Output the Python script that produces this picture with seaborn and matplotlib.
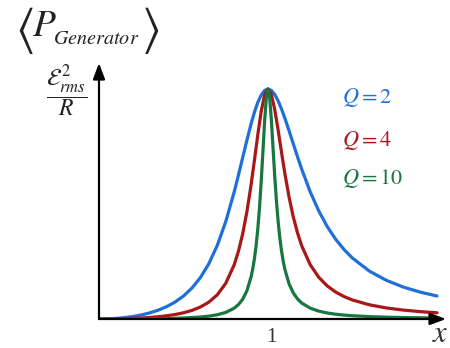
import numpy as np
import pandas as pd
import matplotlib
matplotlib.use("Agg")
import matplotlib.pyplot as plt
import seaborn as sns

# ---- data (x = ω/ω0, power in units of ε²rms/R) ----
x_q2 = [0, 0.05, 0.1, 0.15, 0.2, 0.25, 0.3, 0.35, 0.4, 0.45, 0.5, 0.55, 0.6, 0.65, 0.7, 0.75,
        0.8, 0.825, 0.85, 0.875, 0.9, 0.92, 0.94, 0.96, 0.98, 1.0, 1.02, 1.04, 1.06, 1.08, 1.1,
        1.125, 1.15, 1.175, 1.2, 1.25, 1.3, 1.35, 1.4, 1.45, 1.5, 1.6, 1.7, 1.8, 1.9, 2.0]
p_q2 = [0, 0.0006, 0.0025, 0.0059, 0.0107, 0.0175, 0.0265, 0.0383, 0.0537, 0.0737, 0.100,
        0.1345, 0.1801, 0.2405, 0.3202, 0.4235, 0.5525, 0.6252, 0.7011, 0.7770, 0.8487, 0.8997,
        0.9422, 0.9740, 0.9935, 1.0, 0.9938, 0.9760, 0.9484, 0.9133, 0.8728, 0.8177, 0.7607,
        0.7044, 0.6503, 0.5525, 0.4702, 0.4024, 0.3471, 0.3019, 0.2647, 0.2082, 0.1682,
        0.1390, 0.1170, 0.100]

x_q4 = x_q2
p_q4 = [0, 0.0002, 0.0006, 0.0015, 0.0027, 0.0044, 0.0067, 0.0098, 0.0140, 0.0195, 0.0270,
        0.0374, 0.0521, 0.0734, 0.1053, 0.1552, 0.2358, 0.2943, 0.3696, 0.4656, 0.5837, 0.6916,
        0.8030, 0.9036, 0.9745, 1.0, 0.9755, 0.9103, 0.8213, 0.7247, 0.6317, 0.5286, 0.4428,
        0.3733, 0.3173, 0.2358, 0.1816, 0.1441, 0.1173, 0.0976, 0.0826, 0.0617, 0.0481,
        0.0388, 0.0321, 0.0270]

x_q10 = [0, 0.05, 0.1, 0.15, 0.2, 0.25, 0.3, 0.35, 0.4, 0.45, 0.5, 0.55, 0.6, 0.65, 0.7, 0.75,
         0.8, 0.825, 0.85, 0.875, 0.9, 0.91, 0.92, 0.93, 0.94, 0.95, 0.96, 0.97, 0.98, 0.99,
         1.0, 1.01, 1.02, 1.03, 1.04, 1.05, 1.06, 1.07, 1.08, 1.09, 1.1, 1.125, 1.15, 1.175,
         1.2, 1.25, 1.3, 1.35, 1.4, 1.45, 1.5, 1.6, 1.7, 1.8, 1.9, 2.0]
p_q10 = [0, 0.00003, 0.0001, 0.0002, 0.0004, 0.0007, 0.0011, 0.0016, 0.0023, 0.0032, 0.0044,
         0.0062, 0.0087, 0.0125, 0.0185, 0.0285, 0.0471, 0.0626, 0.0858, 0.1223, 0.1833,
         0.2189, 0.2640, 0.3215, 0.3947, 0.4870, 0.5999, 0.7293, 0.8596, 0.9612, 1.0, 0.9619,
         0.8644, 0.7410, 0.6190, 0.5120, 0.4238, 0.3529, 0.2964, 0.2514, 0.2153, 0.1521,
         0.1128, 0.0870, 0.0692, 0.0471, 0.0343, 0.0262, 0.0208, 0.0170, 0.0142, 0.0104,
         0.0080, 0.0064, 0.0053, 0.0044]

series_names = ["Q = 2", "Q = 4", "Q = 10"]
series_labels = [r"$Q = 2$", r"$Q = 4$", r"$Q = 10$"]
colors = ["#1f6fd8", "#a81818", "#17773f"]

frames = []
for name, xs, ps in zip(series_names, [x_q2, x_q4, x_q10], [p_q2, p_q4, p_q10]):
    frames.append(pd.DataFrame({"x": xs, "P": ps, "series": name}))
df = pd.concat(frames, ignore_index=True)

sns.set_theme(style="white")
plt.rcParams["mathtext.fontset"] = "stix"
plt.rcParams["font.family"] = ["Liberation Serif", "DejaVu Serif"]

fig = plt.figure(figsize=(4.5, 3.48), dpi=100)
ax = fig.add_axes([99 / 450, 1 - 319 / 348, (446 - 99) / 450, (319 - 63) / 348])

sns.lineplot(data=df, x="x", y="P", hue="series", palette=dict(zip(series_names, colors)),
             linewidth=2.3, legend=False, ax=ax, sort=False)
for ln in ax.get_lines():
    ln.set_solid_joinstyle("round")

xmax = (446 - 99) / 169.0
ymax = (319 - 63) / 230.0
ax.set_xlim(0, xmax)
ax.set_ylim(0, ymax)
for s in ax.spines.values():
    s.set_visible(False)
ax.set_xticks([])
ax.set_yticks([])
ax.set_xlabel("")
ax.set_ylabel("")

arrow = dict(arrowstyle="-|>,head_length=0.8,head_width=0.3", color="black", lw=1.6,
             shrinkA=0, shrinkB=0)
ax.annotate("", xy=(xmax, 0), xytext=(0, 0), arrowprops=arrow, annotation_clip=False)
ax.annotate("", xy=(0, ymax), xytext=(0, 0), arrowprops=arrow, annotation_clip=False)

# y-axis title: large angle brackets around P_Generator
tc = "#222222"
fig.text(24 / 450, 1 - 31 / 348, r"$\langle$", fontsize=36, ha="center", va="center", color=tc)
fig.text(150 / 450, 1 - 31 / 348, r"$\rangle$", fontsize=36, ha="center", va="center", color=tc)
fig.text(32 / 450, 1 - 27 / 348, r"$P$", fontsize=27, ha="left", va="center", color=tc)
fig.text(53 / 450, 1 - 40 / 348, r"$Generator$", fontsize=14.5, ha="left", va="center",
         color=tc)
fig.text(67 / 450, 1 - 91 / 348, r"$\dfrac{\mathcal{E}_{rms}^{\,2}}{R}$",
         fontsize=17, ha="center", va="center", color=tc)
fig.text(271 / 450, 1 - 337 / 348, "1", fontsize=15, ha="center", va="center", color="#333333")
fig.text(440 / 450, 1 - 335 / 348, r"$x$", fontsize=22, ha="center", va="center",
         color="#333333")

# series labels
for lab, col, yy in zip(series_labels, colors, [98, 140, 178]):
    fig.text(342 / 450, 1 - yy / 348, lab, fontsize=16, ha="left", va="center", color=col)

fig.savefig("out.png", dpi=100)
